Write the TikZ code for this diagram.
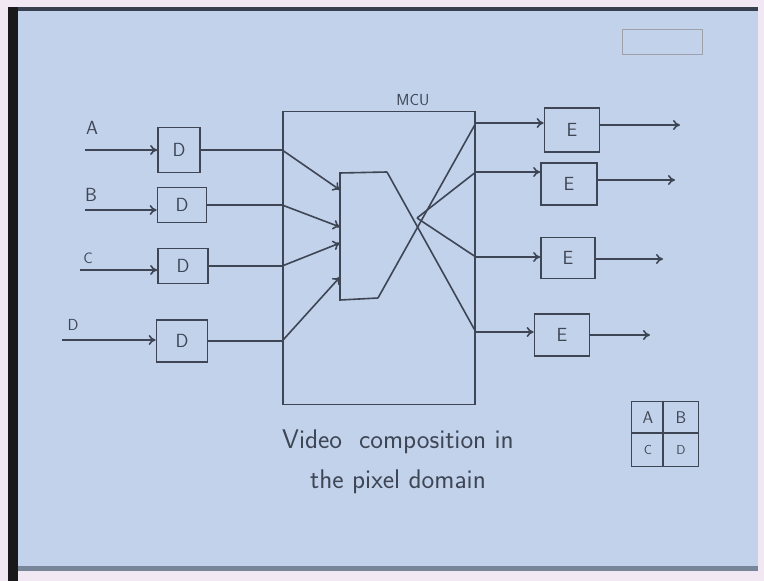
\documentclass[tikz,border=0pt]{standalone}
\usepackage{tikz}
\usetikzlibrary{arrows.meta}
\definecolor{paper}{RGB}{194,210,234}
\definecolor{ink}{RGB}{62,70,86}
\definecolor{edge}{RGB}{242,232,244}
\tikzset{
  wire/.style={draw=ink, line width=1.6pt},
  arrowwire/.style={wire, -{To[length=7pt,width=10pt]}},
  dbox/.style={draw=ink, line width=1.7pt, font=\sffamily\fontsize{19}{22}\selectfont, text=ink, inner sep=0pt},
  hand/.style={font=\sffamily\fontsize{19}{22}\selectfont, text=ink},
}
\begin{document}
\begin{tikzpicture}[x=1pt, y=-1pt]
    % sheet, border and paper
    \fill[edge] (0,0) rectangle (764,581);
    \fill[paper] (18,11) rectangle (758,570);
    \fill[black!90] (8,7) rectangle (18,581);
    \fill[ink!90!black] (18,7) rectangle (758,11);
    \fill[ink!55!paper] (18,566) rectangle (758,571);
    \useasboundingbox (0,0) rectangle (764,581);

    % logo box, top right
    \draw[ink!50, line width=1pt] (622,29) rectangle (702,54);

    % 1. decoder boxes and inputs A..D
    \node[dbox, minimum width=42pt, minimum height=45pt] (d1) at (179,150) {D};
    \node[dbox, minimum width=49pt, minimum height=35pt] (d2) at (182,205) {D};
    \node[dbox, minimum width=50pt, minimum height=35pt] (d3) at (183,266) {D};
    \node[dbox, minimum width=51pt, minimum height=42pt] (d4) at (182,341) {D};
    \node[hand] (la) at (92,128) {A};
    \node[hand] (lb) at (91,195) {B};
    \node[hand, font=\sffamily\fontsize{15}{18}\selectfont] (lc) at (88,258) {C};
    \node[hand, font=\sffamily\fontsize{16}{18}\selectfont] (ld) at (73,325) {D};
    \coordinate (in1) at (85,150);
    \coordinate (in2) at (85,210);
    \coordinate (in3) at (80,270);
    \coordinate (in4) at (62,340);
    \draw[arrowwire] (in1) -- (in1 -| d1.west);
    \draw[arrowwire] (in2) -- (in2 -| d2.west);
    \draw[arrowwire] (in3) -- (in3 -| d3.west);
    \draw[arrowwire] (in4) -- (in4 -| d4.west);

    % 2. MCU with its mixer
    \node[dbox, minimum width=192pt, minimum height=293pt] (mcu) at (379,258) {};
    \node[hand, font=\sffamily\fontsize{16}{18}\selectfont] (mculabel) at (413,100) {MCU};
    \coordinate (m1) at (340,173);
    \coordinate (m2) at (387,172);
    \coordinate (m3) at (378,298);
    \coordinate (m4) at (340,300);
    \coordinate (cross) at (417,218);
    \draw[wire] (m2) -- (m1) -- (m4) -- (m3);
    \coordinate (l1) at (mcu.west |- d1.east);
    \coordinate (l2) at (mcu.west |- d2.east);
    \coordinate (l3) at (mcu.west |- d3.east);
    \coordinate (l4) at (mcu.west |- d4.east);
    \draw[wire] (d1.east) -- (l1);
    \draw[wire] (d2.east) -- (l2);
    \draw[wire] (d3.east) -- (l3);
    \draw[wire] (d4.east) -- (l4);
    \draw[arrowwire] (l1) -- (340,190);
    \draw[arrowwire] (l2) -- (340,227);
    \draw[arrowwire] (l3) -- (340,243);
    \draw[arrowwire] (l4) -- (340,277);
    \coordinate (o1) at (mcu.east |- 0,123);
    \coordinate (o2) at (mcu.east |- 0,172);
    \coordinate (o3) at (mcu.east |- 0,257);
    \coordinate (o4) at (mcu.east |- 0,332);
    \draw[wire] (m2) -- (o4);
    \draw[wire] (m3) -- (o1);
    \draw[wire] (cross) -- (o2);
    \draw[wire] (cross) -- (o3);

    % 3. encoder boxes and outputs
    \node[dbox, minimum width=55pt, minimum height=44pt] (e1) at (572,130) {E};
    \node[dbox, minimum width=56pt, minimum height=42pt] (e2) at (569,184) {E};
    \node[dbox, minimum width=54pt, minimum height=41pt] (e3) at (568,258) {E};
    \node[dbox, minimum width=55pt, minimum height=42pt] (e4) at (562,335) {E};
    \draw[arrowwire] (o1) -- (o1 -| e1.west);
    \draw[arrowwire] (o2) -- (o2 -| e2.west);
    \draw[arrowwire] (o3) -- (o3 -| e3.west);
    \draw[arrowwire] (o4) -- (o4 -| e4.west);
    \coordinate (out1) at (680,125);
    \coordinate (out2) at (675,180);
    \coordinate (out3) at (663,259);
    \coordinate (out4) at (650,335);
    \draw[arrowwire] (e1.east |- out1) -- (out1);
    \draw[arrowwire] (e2.east |- out2) -- (out2);
    \draw[arrowwire] (e3.east |- out3) -- (out3);
    \draw[arrowwire] (e4.east |- out4) -- (out4);

    % caption
    \node[hand, font=\sffamily\fontsize{27}{30}\selectfont] (cap1) at (398,442) {Video\ \ composition in};
    \node[hand, font=\sffamily\fontsize{27}{30}\selectfont] (cap2) at (398,482) {the pixel domain};

    % screen layout A B / C D
    \node[dbox, minimum width=67pt, minimum height=65pt] (quad) at (665,434) {};
    \draw[wire] (quad.north -| 663,0) -- (quad.south -| 663,0);
    \draw[wire] (quad.west |- 0,433) -- (quad.east |- 0,433);
    \node[hand, font=\sffamily\fontsize{17}{20}\selectfont] (qa) at (648,418) {A};
    \node[hand, font=\sffamily\fontsize{17}{20}\selectfont] (qb) at (681,418) {B};
    \node[hand, font=\sffamily\fontsize{13}{16}\selectfont] (qc) at (648,450) {C};
    \node[hand, font=\sffamily\fontsize{13}{16}\selectfont] (qd) at (681,450) {D};
\end{tikzpicture}
\end{document}
